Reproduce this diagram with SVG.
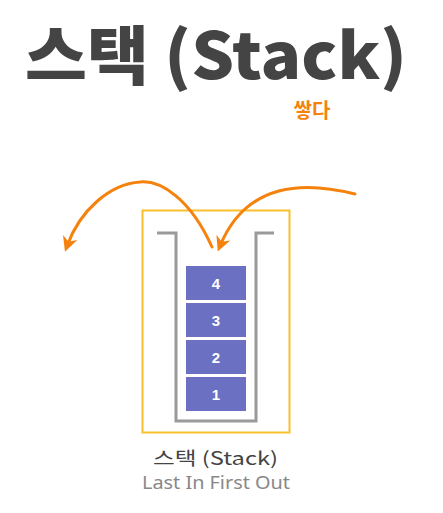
<svg xmlns="http://www.w3.org/2000/svg" width="443" height="513" viewBox="0 0 443 513">
<defs>
<style>
.title{font-family:"Noto Sans CJK KR","Noto Sans",sans-serif;font-weight:900;fill:#444444}
.block rect{fill:#6c70c2}
.block text{font-family:"Liberation Sans",Arial,sans-serif;font-weight:bold;font-size:15px;fill:#ffffff;text-anchor:middle}
.arrow{fill:none;stroke:#f5820d;stroke-width:3;stroke-linecap:round}
</style>
<marker id="ah" viewBox="0 0 10 10" refX="6" refY="5" markerWidth="5" markerHeight="5" orient="auto-start-reverse" markerUnits="strokeWidth">
<path d="M0,0 L10,5 L0,10 L3,5 Z" fill="#f5820d"/>
</marker>
</defs>
<rect width="443" height="513" fill="#ffffff"/>
<g id="title">
<text class="title" x="25" y="79" font-size="64" textLength="382" lengthAdjust="spacingAndGlyphs">스택 (Stack)</text>
</g>
<g id="label-push">
<text x="312" y="118" font-family="Noto Sans CJK KR,sans-serif" font-weight="bold" font-size="20" fill="#f5820d" text-anchor="middle">쌓다</text>
</g>
<g id="stack-frame">
<rect x="142.5" y="210.5" width="147" height="222" fill="none" stroke="#f9bf2c" stroke-width="2"/>
<path d="M157,233 H176 V421 H256 V233 H274" fill="none" stroke="#9a9a9a" stroke-width="3"/>
</g>
<g id="block-4" class="block"><rect x="186" y="266" width="60" height="34"/><text x="216" y="288.5">4</text></g>
<g id="block-3" class="block"><rect x="186" y="303" width="60" height="34"/><text x="216" y="325.5">3</text></g>
<g id="block-2" class="block"><rect x="186" y="340" width="60" height="34"/><text x="216" y="362.5">2</text></g>
<g id="block-1" class="block"><rect x="186" y="377" width="60" height="34"/><text x="216" y="399.5">1</text></g>
<g id="connectors">
<path class="arrow" d="M212,247 C190,198 160,180 140,182 C110,184 80,210 67,246" marker-end="url(#ah)"/>
<path class="arrow" d="M355,194 C300,180 245,185 220,246" marker-end="url(#ah)"/>
</g>
<g id="caption">
<text x="153" y="465" font-family="Noto Sans CJK KR,sans-serif" font-size="18" fill="#444444" textLength="125" lengthAdjust="spacingAndGlyphs">스택 (Stack)</text>
<text x="142" y="489" font-family="Noto Sans,sans-serif" font-size="18" fill="#888888" textLength="148" lengthAdjust="spacingAndGlyphs">Last In First Out</text>
</g>
</svg>
